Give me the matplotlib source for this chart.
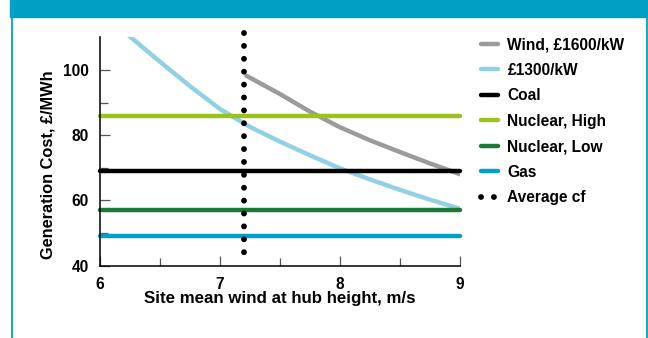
import matplotlib
matplotlib.use("Agg")
import matplotlib.pyplot as plt
from matplotlib.lines import Line2D
from matplotlib.patches import Rectangle

plt.rcParams['font.family'] = ['Liberation Sans', 'DejaVu Sans']
plt.rcParams['font.weight'] = 'bold'
plt.rcParams['font.size'] = 11.2

# data
wind16_x = [7.22, 7.5, 7.75, 8.0, 8.25, 8.5, 8.75, 9.0]
wind16_y = [98.2, 92.6, 87.2, 82.4, 78.4, 74.8, 71.3, 68.0]
wind13_x = [6.24, 6.5, 6.75, 7.0, 7.25, 7.5, 7.75, 8.0, 8.25, 8.5, 8.75, 9.0]
wind13_y = [110.5, 102.5, 95.0, 88.0, 82.5, 78.0, 73.8, 69.8, 66.4, 63.2, 60.2, 57.4]
x_span = [6.0, 9.0]
coal = 69
nuclear_high = 86
nuclear_low = 57
gas = 49
avg_cf_x = 7.2
avg_cf_y = [111.2, 43.4]

teal = '#009fc6'
c_wind16 = '#9b9b9b'
c_wind13 = '#92d1e4'
c_coal = '#000000'
c_nhigh = '#9bc31c'
c_nlow = '#187a34'
c_gas = '#00a0c8'

fig = plt.figure(figsize=(6.48, 3.38), dpi=100)

# header bar and side borders
fig.patches.append(Rectangle((10 / 648, 1 - 16.5 / 338), 638 / 648, 16.5 / 338,
                             transform=fig.transFigure, color=teal, zorder=0))
fig.add_artist(Line2D([11.5 / 648, 11.5 / 648], [0, 1 - 16.5 / 338],
                      transform=fig.transFigure, color=teal, lw=1.3))
fig.add_artist(Line2D([646.5 / 648, 646.5 / 648], [0, 1 - 16.5 / 338],
                      transform=fig.transFigure, color=teal, lw=1.3))

ax = fig.add_axes([100 / 648, 72.5 / 338, 360 / 648, 228.2 / 338])

lw = 3.2
ax.plot(wind16_x, wind16_y, color=c_wind16, lw=lw, solid_capstyle='round',
        label='Wind, £1600/kW')
ax.plot(wind13_x, wind13_y, color=c_wind13, lw=lw, solid_capstyle='round',
        label='£1300/kW')
ax.plot(x_span, [coal, coal], color=c_coal, lw=lw, solid_capstyle='round',
        label='Coal', clip_on=False)
ax.plot(x_span, [nuclear_high, nuclear_high], color=c_nhigh, lw=lw,
        solid_capstyle='round', label='Nuclear, High', clip_on=False)
ax.plot(x_span, [nuclear_low, nuclear_low], color=c_nlow, lw=lw,
        solid_capstyle='round', label='Nuclear, Low', clip_on=False)
ax.plot(x_span, [gas, gas], color=c_gas, lw=lw, solid_capstyle='round',
        label='Gas', clip_on=False)
ax.plot([avg_cf_x, avg_cf_x], avg_cf_y, color='black', lw=4.2,
        linestyle=(0, (0.01, 2.2)), dash_capstyle='round',
        label='Average cf', clip_on=False, zorder=5)

ax.set_xlim(6, 9)
ax.set_ylim(40, 110)
ax.set_xticks([6, 7, 8, 9])
ax.set_xticks([6.5, 7.5, 8.5], minor=True)
ax.set_yticks([40, 60, 80, 100])
ax.set_yticks([50, 70, 90], minor=True)
ax.tick_params(which='both', direction='in', width=0.9, color='#555555')
ax.tick_params(which='major', length=7, pad=8)
ax.tick_params(which='minor', length=6)
for s in ['top', 'right']:
    ax.spines[s].set_visible(False)
for s in ['left', 'bottom']:
    ax.spines[s].set_linewidth(1.1)

fig.text(280 / 648, 1 - 299 / 338, 'Site mean wind at hub height, m/s',
         ha='center', va='center', fontsize=12.2)
fig.text(48.5 / 648, 1 - 165 / 338, 'Generation Cost, £/MWh',
         ha='center', va='center', rotation=90, fontsize=11.8)

handles, labels = ax.get_legend_handles_labels()
leg = fig.legend(handles, labels, loc='upper left',
                 bbox_to_anchor=(481 / 648, 1 - 37 / 338),
                 frameon=False, handlelength=1.1, handletextpad=0.6,
                 labelspacing=0.68, borderaxespad=0, borderpad=0)

fig.savefig('out.png', dpi=100, facecolor='white')
